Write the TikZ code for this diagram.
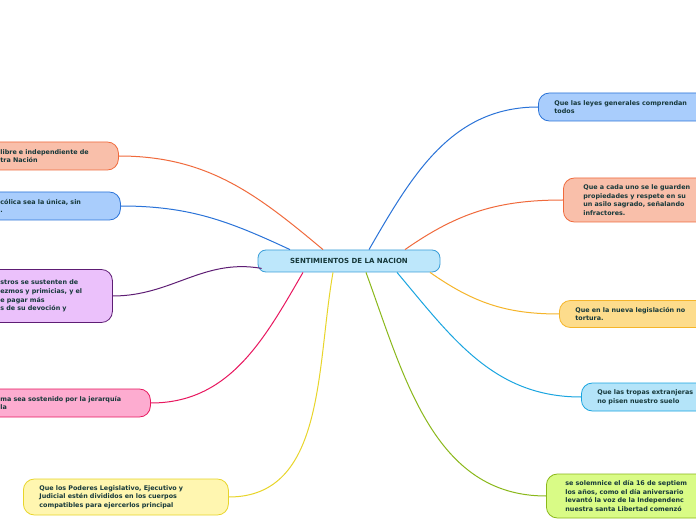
\documentclass[tikz,border=0pt]{standalone}
\usepackage{fontspec}
\setmainfont{DejaVu Sans}
\usepackage{tikz}
\usetikzlibrary{positioning}
\definecolor{txt}{HTML}{16383A}
\definecolor{salF}{HTML}{F9BFAA}\definecolor{salD}{HTML}{F06A3C}
\definecolor{bluF}{HTML}{A9CDFC}\definecolor{bluD}{HTML}{2A73D8}
\definecolor{purF}{HTML}{EBC1FB}\definecolor{purD}{HTML}{5E1D74}
\definecolor{pinF}{HTML}{FDACD0}\definecolor{pinD}{HTML}{E8175F}
\definecolor{yelF}{HTML}{FFF6B0}\definecolor{yelD}{HTML}{E8D52A}
\definecolor{oraF}{HTML}{FDDC8C}\definecolor{oraD}{HTML}{F5B52A}
\definecolor{cyaF}{HTML}{B4E4F9}\definecolor{cyaD}{HTML}{1AA5E0}
\definecolor{greF}{HTML}{D9FB86}\definecolor{greD}{HTML}{8AB81A}
\definecolor{cenF}{HTML}{BDE7FB}\definecolor{cenD}{HTML}{3B9FD9}
\tikzset{
  topic/.style={draw, line width=0.8pt, rounded corners=11pt, align=left,
    text=txt, inner xsep=16pt, inner ysep=3pt,
    font=\fontsize{6.4}{8.7}\selectfont\bfseries},
  link/.style={line width=1pt},
}
\begin{document}
\begin{tikzpicture}[x=1pt, y=1pt]
  \fill[white] (0,0) rectangle (696,520);
  \clip (0,0) rectangle (696,520);

  % === centre ===
  \node[draw=cenD, fill=cenF, line width=0.8pt, rounded corners=8pt,
        minimum width=182pt, minimum height=22pt, text=txt,
        font=\fontsize{7}{8}\selectfont\bfseries] (c) at (349,259) {SENTIMIENTOS DE LA NACION};

  % === left side ===
  \node[topic, fill=salF, draw=salD, anchor=west, text width=102pt, minimum height=28pt] (l1) at (-16,364)
    {libre e independiente de\\tra Naci\'on};
  \node[topic, fill=bluF, draw=bluD, anchor=west, text width=104pt, minimum height=28pt] (l2) at (-16,314)
    {c\'olica sea la \'unica, sin\\.};
  \node[topic, fill=purF, draw=purD, anchor=west, text width=96pt, minimum height=53pt] (l3) at (-16,224)
    {stros se sustenten de\\ezmos y primicias, y el\\e pagar m\'as\\s de su devoci\'on y};
  \node[topic, fill=pinF, draw=pinD, anchor=west, text width=134pt, minimum height=28pt] (l4) at (-16,117)
    {ma sea sostenido por la jerarqu\'ia\\la};
  \node[topic, fill=yelF, draw=yelD, anchor=west, text width=173pt, minimum height=36pt] (l5) at (23,23)
    {Que los Poderes Legislativo, Ejecutivo y\\Judicial est\'en divididos en los cuerpos\\compatibles para ejercerlos principal};

  % === right side ===
  \node[topic, fill=bluF, draw=bluD, anchor=west, text width=170pt, minimum height=28pt] (r1) at (538,413)
    {Que las leyes generales comprendan\\todos};
  \node[topic, fill=salF, draw=salD, anchor=west, text width=170pt, minimum height=44pt, inner xsep=20pt] (r2) at (563,320)
    {Que a cada uno se le guarden\\propiedades y respete en su\\un asilo sagrado, se\~nalando\\infractores.};
  \node[topic, fill=oraF, draw=oraD, anchor=west, text width=170pt, minimum height=27pt] (r3) at (559,206)
    {Que en la nueva legislaci\'on no\\tortura.};
  \node[topic, fill=cyaF, draw=cyaD, anchor=west, text width=170pt, minimum height=28pt] (r4) at (581,123)
    {Que las tropas extranjeras\\no pisen nuestro suelo};
  \node[topic, fill=greF, draw=greD, anchor=west, text width=170pt, minimum height=44pt, inner xsep=19pt] (r5) at (546,24)
    {se solemnice el d\'ia 16 de septiem\\los a\~nos, como el d\'ia aniversario\\levant\'o la voz de la Independenc\\nuestra santa Libertad comenz\'o};

  % === links ===
  \draw[link, salD] ([xshift=-26pt]c.north) to[out=140, in=0] (l1.east);
  \draw[link, bluD] ([xshift=-59pt]c.north) to[out=155, in=0] (l2.east);
  \draw[link, purD] ([xshift=4pt, yshift=4pt]c.south west) to[out=170, in=0] (l3.east);
  \draw[link, pinD] ([xshift=-46pt]c.south) to[out=-120, in=0] (l4.east);
  \draw[link, yelD] ([xshift=-16pt]c.south) to[out=-100, in=0] (l5.east);
  \draw[link, bluD] ([xshift=20pt]c.north) to[out=60, in=180] (r1.west);
  \draw[link, salD] ([xshift=56pt]c.north) to[out=35, in=180] (r2.west);
  \draw[link, oraD] ([xshift=81pt]c.south) to[out=-35, in=180] (r3.west);
  \draw[link, cyaD] ([xshift=48pt]c.south) to[out=-50, in=180] (r4.west);
  \draw[link, greD] ([xshift=17pt]c.south) to[out=-70, in=180] (r5.west);
\end{tikzpicture}
\end{document}
